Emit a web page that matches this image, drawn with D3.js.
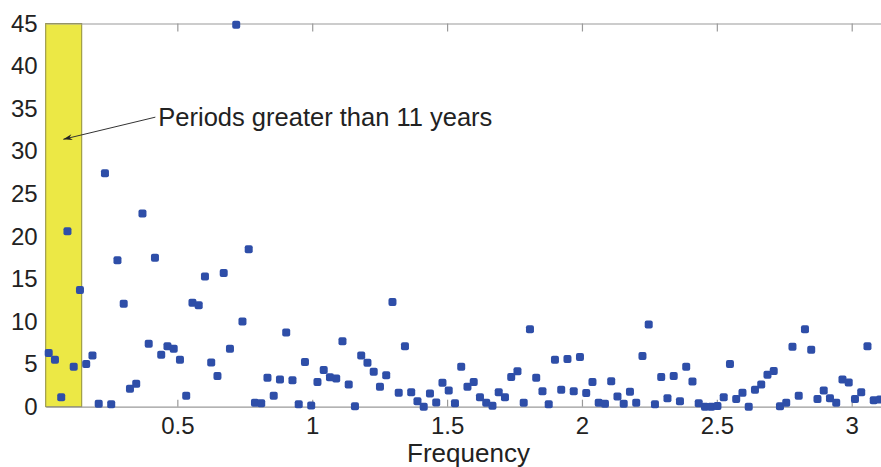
<!DOCTYPE html>
<html>
<head>
<meta charset="utf-8">
<script src="https://cdn.jsdelivr.net/npm/d3@7"></script>
<style>
  html, body { margin: 0; padding: 0; background: #fff; }
  svg { display: block; }
  text { font-family: "Liberation Sans", Arial, Helvetica, sans-serif; }
</style>
</head>
<body>
<svg id="chart" width="881" height="467"></svg>
<script>
// ---- data ----
const freqStep = 0.02317;            // spacing of the frequency grid
const power = [
  6.3, 5.5, 1.1, 20.6, 4.7, 13.7, 5.0, 6.0, 0.35, 27.4,
  0.3, 17.2, 12.1, 2.1, 2.7, 22.7, 7.4, 17.5, 6.1, 7.1,
  6.8, 5.5, 1.3, 12.2, 11.9, 15.3, 5.2, 3.6, 15.7, 6.8,
  44.85, 10.0, 18.5, 0.45, 0.4, 3.4, 1.3, 3.2, 8.7, 3.1,
  0.3, 5.25, 0.15, 2.9, 4.3, 3.45, 3.3, 7.7, 2.6, 0.05,
  6.0, 5.15, 4.1, 2.35, 3.7, 12.3, 1.65, 7.1, 1.7, 0.65,
  0.0, 1.55, 0.5, 2.8, 1.9, 0.4, 4.7, 2.35, 2.9, 1.1,
  0.45, 0.1, 1.7, 1.1, 3.5, 4.15, 0.45, 9.1, 3.4, 1.8,
  0.3, 5.5, 2.0, 5.6, 1.8, 5.85, 1.6, 2.9, 0.45, 0.35,
  3.0, 1.2, 0.35, 1.75, 0.45, 5.95, 9.65, 0.3, 3.5, 1.0,
  3.6, 0.65, 4.7, 2.95, 0.4, 0.0, 0.0, 0.08, 1.1, 5.0,
  0.9, 1.65, 0.0, 2.0, 2.6, 3.75, 4.2, 0.05, 0.45, 7.05,
  1.3, 9.1, 6.7, 0.9, 1.9, 1.0, 0.45, 3.2, 2.85, 0.9,
  1.7, 7.1, 0.75, 0.85, 7.0
];
const frequency = power.map((_, i) => (i + 1) * freqStep);
const xTicks = [0.5, 1, 1.5, 2, 2.5, 3];
const xTickLabels = ["0.5", "1", "1.5", "2", "2.5", "3"];
const yTicks = [0, 5, 10, 15, 20, 25, 30, 35, 40, 45];
const band = [0.012, 0.1455];        // highlighted frequency range
const annotationText = "Periods greater than 11 years";
const annotationTextPos = [0.4295, 33.0];
const annotationArrowFrom = [0.4185, 34.0];
const annotationArrowTo = [0.0773, 31.4];
const xLabel = "Frequency";

// ---- layout ----
const svg = d3.select("#chart");
const x = d3.scaleLinear().domain([0.012, Math.PI]).range([45.7, 889.9]);
const y = d3.scaleLinear().domain([0, 45]).range([406.7, 23.5]);
const axisColor = "#9a9a9a";
const textColor = "#222";

// band
svg.append("rect")
  .attr("x", x(band[0]))
  .attr("y", y(45))
  .attr("width", x(band[1]) - x(band[0]))
  .attr("height", y(0) - y(45))
  .attr("fill", "#ece845")
  .attr("stroke", "#8f8c3a")
  .attr("stroke-width", 1);

// bottom axis
const gx = svg.append("g")
  .attr("transform", `translate(0,${y(0)})`)
  .call(d3.axisBottom(x).tickValues(xTicks)
    .tickFormat((d, i) => xTickLabels[i])
    .tickSizeInner(-7).tickSizeOuter(0).tickPadding(10));
gx.select(".domain").attr("stroke", axisColor).attr("stroke-width", 1.2);
gx.selectAll(".tick line").attr("stroke", axisColor).attr("stroke-width", 1.2);
gx.selectAll(".tick text").attr("fill", textColor).attr("font-size", 24)
  .attr("font-family", "'Liberation Sans', Arial, sans-serif");

// top axis (box)
const gt = svg.append("g")
  .attr("transform", `translate(0,${y(45)})`)
  .call(d3.axisTop(x).tickValues(xTicks).tickFormat("")
    .tickSizeInner(-8).tickSizeOuter(0));
gt.select(".domain").attr("stroke", axisColor).attr("stroke-width", 1.2);
gt.selectAll(".tick line").attr("stroke", axisColor).attr("stroke-width", 1.2);

// left axis
const gy = svg.append("g")
  .attr("transform", `translate(${x(band[0])},0)`)
  .call(d3.axisLeft(y).tickValues(yTicks).tickSizeInner(0).tickSizeOuter(0).tickPadding(8));
gy.select(".domain").remove();
gy.selectAll(".tick text").attr("fill", textColor).attr("font-size", 24)
  .attr("font-family", "'Liberation Sans', Arial, sans-serif");

// points
const ms = 8;
svg.append("g").selectAll("rect")
  .data(power)
  .join("rect")
  .attr("x", (d, i) => x(frequency[i]) - ms / 2)
  .attr("y", d => y(d) - ms / 2)
  .attr("width", ms)
  .attr("height", ms)
  .attr("rx", 2)
  .attr("fill", "#2e4ea8");

// annotation
const ax1 = x(annotationArrowFrom[0]), ay1 = y(annotationArrowFrom[1]);
const ax2 = x(annotationArrowTo[0]), ay2 = y(annotationArrowTo[1]);
svg.append("line")
  .attr("x1", ax1).attr("y1", ay1).attr("x2", ax2).attr("y2", ay2)
  .attr("stroke", "#333").attr("stroke-width", 1);
const ang = Math.atan2(ay1 - ay2, ax1 - ax2);
const hl = 9, hw = 3;
const p1 = [ax2 + hl * Math.cos(ang) - hw * Math.sin(ang), ay2 + hl * Math.sin(ang) + hw * Math.cos(ang)];
const p2 = [ax2 + hl * Math.cos(ang) + hw * Math.sin(ang), ay2 + hl * Math.sin(ang) - hw * Math.cos(ang)];
const pm = [ax2 + 0.7 * hl * Math.cos(ang), ay2 + 0.7 * hl * Math.sin(ang)];
svg.append("path")
  .attr("d", `M${ax2},${ay2}L${p1[0]},${p1[1]}L${pm[0]},${pm[1]}L${p2[0]},${p2[1]}Z`)
  .attr("fill", "#222");
svg.append("text")
  .attr("x", x(annotationTextPos[0]))
  .attr("y", y(annotationTextPos[1]))
  .attr("font-size", 25.5)
  .attr("fill", textColor)
  .text(annotationText);

// x label
svg.append("text")
  .attr("x", 468.5)
  .attr("y", 462)
  .attr("text-anchor", "middle")
  .attr("font-size", 26)
  .attr("fill", textColor)
  .text(xLabel);
</script>
</body>
</html>
